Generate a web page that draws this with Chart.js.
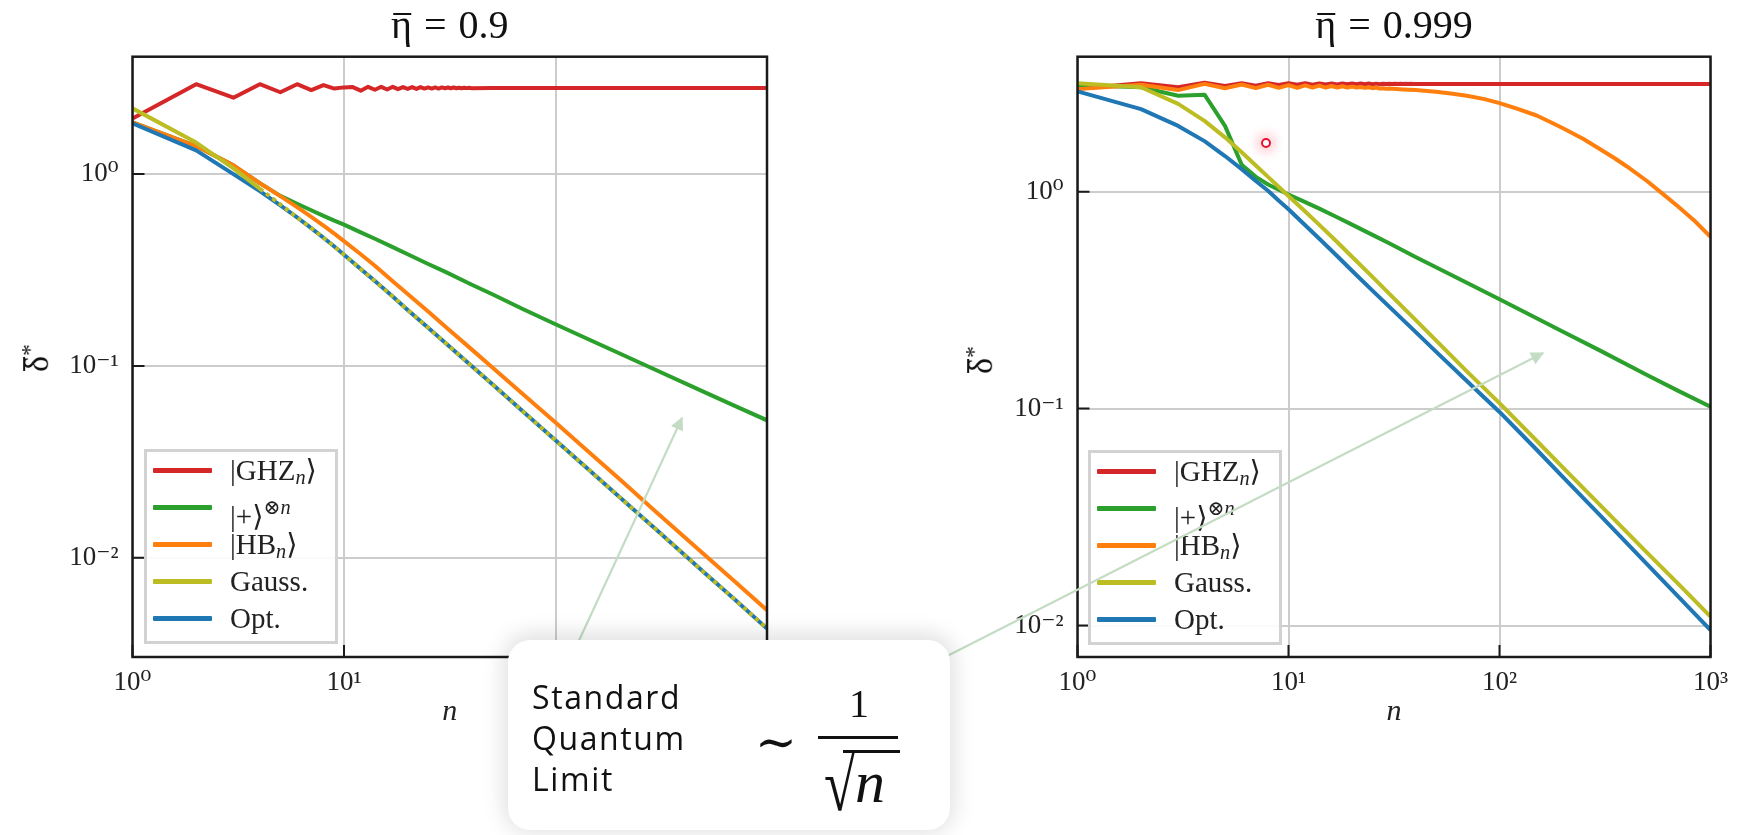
<!DOCTYPE html>
<html>
<head>
<meta charset="utf-8">
<script src="https://cdn.jsdelivr.net/npm/chart.js@4.4.1/dist/chart.umd.min.js"></script>
<style>
  body { margin: 0; width: 1743px; height: 835px; overflow: hidden; background: #fff; position: relative; }
  canvas { position: absolute; top: 0; }
  #panelA { left: 0; }
  #panelB { left: 940px; }
  .ttl, .ylab { position: absolute; font-family: 'Liberation Serif', 'DejaVu Serif', serif; color: #111; white-space: nowrap; }
  .ttl { top: 3px; font-size: 40px; line-height: 44px; transform: translateX(-50%); }
  .ttl .eq { margin: 0 0.3em; }
  #ttlA { left: 449.75px; }
  #ttlB { left: 1394px; }
  .bar-over { position: relative; display: inline-block; }
  .ttl .bar-over::after { content: ''; position: absolute; left: 2px; right: 1px; top: 10px; border-top: 2px solid #111; }
  .ylab { font-size: 34px; line-height: 40px; transform: translate(-50%, -50%) rotate(-90deg); }
  .ylab .bar-over::after { content: ''; position: absolute; left: 1px; right: 1px; top: 6px; border-top: 2px solid #111; }
  .ylab sup { font-size: 70%; vertical-align: 0.45em; }
  #ylabA { left: 33px; top: 358px; }
  #ylabB { left: 977px; top: 360px; }
  .legend {
    position: absolute; width: 194px; height: 195px; box-sizing: border-box;
    border: 3px solid #d2d2d2; background: rgba(255,255,255,0.9);
    font-family: 'Liberation Serif', 'DejaVu Serif', serif; font-size: 29px; color: #222;
  }
  .legend .row { position: relative; height: 37px; white-space: nowrap; }
  .legend .swatch { position: absolute; left: 6px; top: 16px; width: 59px; height: 5px; border-radius: 1px; }
  .legend .lab { position: absolute; left: 83px; top: 0; line-height: 37px; }
  .legend sub { font-size: 70%; vertical-align: -0.2em; }
  .legend sup { font-size: 70%; vertical-align: 0.6em; }
  #legA { left: 144px; top: 449px; }
  #legB { left: 1088px; top: 450px; }
  #arrows { position: absolute; left: 0; top: 0; }
  #sql {
    position: absolute; left: 508px; top: 640px; width: 442px; height: 190px;
    background: #fff; border-radius: 22px; box-shadow: 0 -2px 22px 4px rgba(0,0,0,0.13);
    color: #111;
  }
  #sql .words { position: absolute; left: 24px; top: 36px; font-family: 'Open Sans', sans-serif;
    font-size: 32px; line-height: 41px; letter-spacing: 1.6px; }
  #sql .m { position: absolute; font-family: 'Liberation Serif', 'DejaVu Serif', serif; line-height: 1; }
  #sql .sim { left: 247px; top: 77px; font-size: 50px; }
  #sql .num { left: 341px; top: 44px; font-size: 40px; }
  #sql .bar { position: absolute; left: 310px; top: 96px; width: 80px; height: 2.5px; background: #111; }
  #sql .rad { left: 316px; top: 106px; font-size: 76px; transform: scale(0.75, 1); transform-origin: 0 0; }
  #sql .vinc { position: absolute; left: 335px; top: 110px; width: 57px; height: 2.5px; background: #111; }
  #sql .den { left: 347px; top: 112px; font-size: 60px; font-style: italic; }
  #cursor { position: absolute; left: 1261px; top: 138px; width: 6px; height: 6px; border: 2px solid #e8102c;
    border-radius: 50%; box-shadow: 0 0 9px 6px rgba(255,90,110,0.22); }
</style>
</head>
<body>
<canvas id="panelA" width="800" height="760"></canvas>
<canvas id="panelB" width="803" height="760"></canvas>
<div class="ttl" id="ttlA"><span class="bar-over">η</span><span class="eq">=</span>0.9</div>
<div class="ttl" id="ttlB"><span class="bar-over">η</span><span class="eq">=</span>0.999</div>
<div class="ylab" id="ylabA"><span class="bar-over">δ</span><sup>*</sup></div>
<div class="ylab" id="ylabB"><span class="bar-over">δ</span><sup>*</sup></div>
<div class="legend" id="legA"></div>
<div class="legend" id="legB"></div>
<svg id="arrows" width="1743" height="835">
  <defs>
    <marker id="head" viewBox="0 0 10 10" refX="9" refY="5" markerWidth="6" markerHeight="6" orient="auto">
      <path d="M0,0 L10,5 L0,10 z" fill="#c3dcc3"/>
    </marker>
  </defs>
  <line x1="570" y1="660" x2="682" y2="418" stroke="#c3dcc3" stroke-width="2.2" marker-end="url(#head)"/>
  <line x1="900" y1="680" x2="1543" y2="353" stroke="#c3dcc3" stroke-width="2.2" marker-end="url(#head)"/>
</svg>
<div id="cursor"></div>
<div id="sql">
  <div class="words">Standard<br>Quantum<br>Limit</div>
  <span class="m sim">∼</span>
  <span class="m num">1</span>
  <div class="bar"></div>
  <span class="m rad">√</span>
  <div class="vinc"></div>
  <span class="m den">n</span>
</div>
<script>
// axis ticks and limits
const xTicks = [1, 10, 100, 1000];
const yTicks = [0.01, 0.1, 1];
const yRangeA = [0.003043, 4.09];
const yRangeB = [0.00716, 4.19];

const seriesNames = ['|GHZ<sub><i>n</i></sub>⟩', '|+⟩<sup>⊗<i>n</i></sup>', '|HB<sub><i>n</i></sub>⟩', 'Gauss.', 'Opt.'];
const seriesColors = ['#d62728', '#2ca02c', '#ff7f0e', '#bcbd22', '#1f77b4'];

// common n grid for the smooth curves
const nGrid = [1, 2, 3, 4, 5, 6, 7, 8, 9, 10, 12, 14, 17, 20, 25, 30, 40, 50, 70, 100, 150, 200, 300, 500, 700, 1000];

// ---- left panel, eta = 0.9 ----
const nGhzA = [1, 2, 3, 4, 5, 6, 7, 8, 9, 10, 11, 12, 13, 14, 15, 16, 17, 18, 19, 20,
  21, 22, 23, 24, 25, 26, 27, 28, 29, 30, 31, 32, 33, 34, 35, 36, 37, 38, 39, 40, 50, 1000];
const ghzA = [1.95, 2.94, 2.50, 2.94, 2.67, 2.94, 2.74, 2.91, 2.79, 2.83, 2.84, 2.72, 2.85, 2.75, 2.85, 2.76, 2.85, 2.77, 2.84, 2.78,
  2.84, 2.78, 2.84, 2.79, 2.83, 2.79, 2.83, 2.79, 2.83, 2.80, 2.825, 2.80, 2.825, 2.80, 2.82, 2.80, 2.82, 2.805, 2.815, 2.805, 2.81, 2.81];
const plusA = [1.86, 1.40, 1.11, 0.897, 0.77, 0.70, 0.648, 0.606, 0.572, 0.545, 0.497, 0.46, 0.416, 0.382, 0.34, 0.31,
  0.266, 0.237, 0.198, 0.165, 0.1345, 0.1165, 0.095, 0.0735, 0.0621, 0.0521];
const hbA = [1.86, 1.40, 1.11, 0.897, 0.768, 0.673, 0.599, 0.539, 0.489, 0.447, 0.382, 0.333, 0.276, 0.237, 0.192, 0.1612,
  0.1224, 0.0988, 0.0715, 0.0507, 0.0342, 0.0258, 0.0173, 0.0105, 0.00758, 0.00534];
const gaussA = [2.2, 1.46, 1.07, 0.84, 0.695, 0.594, 0.523, 0.466, 0.419, 0.38, 0.32, 0.277, 0.23, 0.196, 0.158, 0.1325,
  0.1003, 0.0807, 0.0581, 0.041, 0.0276, 0.0208, 0.014, 0.00847, 0.0061, 0.00428];
const optA = [1.84, 1.33, 1.0, 0.815, 0.687, 0.594, 0.523, 0.466, 0.419, 0.38, 0.32, 0.277, 0.23, 0.196, 0.158, 0.1325,
  0.1003, 0.0807, 0.0581, 0.041, 0.0276, 0.0208, 0.014, 0.00847, 0.0061, 0.00428];

// ---- right panel, eta = 0.999 ----
const nGhzB = [1, 2, 3, 4, 5, 6, 7, 8, 9, 10, 11, 12, 13, 14, 15, 16, 17, 18, 19, 20,
  21, 22, 23, 24, 25, 26, 27, 28, 29, 30, 31, 32, 33, 34, 35, 36, 37, 38, 39, 40, 1000];
const ghzB = [2.98, 3.16, 3.03, 3.18, 3.07, 3.16, 3.08, 3.16, 3.10, 3.16, 3.11, 3.16, 3.115, 3.155, 3.12, 3.155, 3.12, 3.15, 3.125, 3.15,
  3.125, 3.15, 3.13, 3.15, 3.13, 3.148, 3.132, 3.147, 3.133, 3.146, 3.134, 3.145, 3.135, 3.144, 3.136, 3.143, 3.137, 3.142, 3.138, 3.14, 3.14];
const nHbB = [1, 2, 3, 4, 5, 6, 7, 8, 9, 10, 11, 12, 13, 14, 15, 16, 17, 18, 19, 20,
  21, 22, 23, 24, 25, 26, 27, 28, 29, 30, 35, 40, 50, 60, 70, 85, 100, 120, 150, 175,
  200, 250, 300, 350, 400, 500, 600, 700, 850, 1000];
const hbB = [2.97, 3.11, 2.94, 3.14, 3.00, 3.12, 3.00, 3.11, 3.01, 3.10, 3.01, 3.09, 3.02, 3.08, 3.02, 3.07, 3.02, 3.06, 3.02, 3.05,
  3.02, 3.04, 3.01, 3.03, 3.00, 3.02, 2.99, 3.00, 2.98, 2.99, 2.96, 2.94, 2.89, 2.83, 2.77, 2.67, 2.56, 2.42, 2.245, 2.09,
  1.96, 1.75, 1.57, 1.43, 1.31, 1.12, 0.969, 0.857, 0.726, 0.62];
const plusB = [3.10, 3.03, 2.77, 2.80, 2.01, 1.33, 1.17, 1.08, 1.02, 0.97, 0.895, 0.835, 0.762, 0.705, 0.632, 0.578,
  0.50, 0.448, 0.38, 0.319, 0.261, 0.226, 0.185, 0.143, 0.121, 0.102];
const gaussB = [3.16, 3.03, 2.54, 2.12, 1.78, 1.52, 1.32, 1.17, 1.05, 0.955, 0.811, 0.703, 0.586, 0.501, 0.405, 0.339,
  0.2565, 0.2063, 0.1484, 0.106, 0.0711, 0.0534, 0.0359, 0.0217, 0.01563, 0.011];
const optB = [2.90, 2.40, 2.01, 1.71, 1.46, 1.27, 1.12, 1.01, 0.908, 0.83, 0.70, 0.607, 0.505, 0.432, 0.35, 0.295,
  0.2257, 0.183, 0.134, 0.0965, 0.0646, 0.0483, 0.0322, 0.0192, 0.01367, 0.00953];

const SERIF = "'Liberation Serif', 'DejaVu Serif', serif";
Chart.defaults.color = '#222';

function pts(ns, vals) {
  return ns.map((n, i) => ({ x: n, y: vals[i] }));
}

function powLabel(v) {
  const sup = { '-': '⁻', '0': '⁰', '1': '¹', '2': '²', '3': '³' };
  const e = String(Math.round(Math.log10(v)));
  return '10' + e.split('').map(c => sup[c]).join('');
}

// frame round the plot and the inward major ticks
const frameTicks = {
  id: 'frameTicks',
  afterDatasetsDraw(chart) {
    const { ctx, chartArea: a, scales: { x, y } } = chart;
    ctx.save();
    ctx.strokeStyle = '#1a1a1a';
    ctx.lineWidth = 2;
    ctx.beginPath();
    y.ticks.forEach(t => {
      const p = y.getPixelForValue(t.value);
      ctx.moveTo(a.left, p); ctx.lineTo(a.left + 12, p);
    });
    x.ticks.forEach(t => {
      const p = x.getPixelForValue(t.value);
      ctx.moveTo(p, a.bottom); ctx.lineTo(p, a.bottom - 12);
    });
    ctx.stroke();
    ctx.lineWidth = 2.5;
    ctx.strokeRect(a.left, a.top, a.right - a.left, a.bottom - a.top);
    ctx.restore();
  }
};

function makeDatasets(ghz, plus, hb, gauss, opt, dashedGauss) {
  const list = [
    { data: ghz, order: 5 },
    { data: plus, order: 4 },
    { data: hb, order: 3 },
    { data: gauss, order: 1 },
    { data: opt, order: 2 }
  ];
  return list.map((d, i) => {
    const ds = {
      label: seriesNames[i].replace(/<[^>]+>/g, ''),
      data: d.data,
      order: d.order,
      borderColor: seriesColors[i],
      backgroundColor: seriesColors[i],
      borderWidth: 4,
      pointRadius: 0,
      tension: 0,
      fill: false,
      borderJoinStyle: 'round'
    };
    if (i === 3 && dashedGauss) {
      ds.segment = { borderDash: c => (c.p0DataIndex >= 3 ? [4, 4] : undefined) };
    }
    return ds;
  });
}

function makeChart(id, datasets, yRange, yWidth, padRight) {
  const ctx = document.getElementById(id).getContext('2d');
  return new Chart(ctx, {
    type: 'line',
    data: { datasets },
    options: {
      responsive: false,
      animation: false,
      events: [],
      devicePixelRatio: 1,
      layout: { padding: { left: 0, right: padRight, top: 56.7, bottom: 0 } },
      plugins: {
        legend: { display: false },
        tooltip: { enabled: false }
      },
      scales: {
        x: {
          type: 'logarithmic', min: 1, max: 1000,
          afterBuildTicks: s => { s.ticks = xTicks.map(v => ({ value: v })); },
          afterFit: s => { s.height = 103; },
          grid: { color: '#cccccc', lineWidth: 2, drawTicks: false },
          border: { display: false },
          ticks: { padding: 10, autoSkip: false, maxRotation: 0, color: '#222',
            font: { family: SERIF, size: 27 }, callback: v => powLabel(v) },
          title: { display: true, text: 'n', color: '#222',
            font: { family: SERIF, size: 30, style: 'italic' }, padding: { top: 0, bottom: 30 } }
        },
        y: {
          type: 'logarithmic', min: yRange[0], max: yRange[1],
          afterBuildTicks: s => { s.ticks = yTicks.map(v => ({ value: v })); },
          afterFit: s => { s.width = yWidth; },
          grid: { color: '#cccccc', lineWidth: 2, drawTicks: false },
          border: { display: false },
          ticks: { padding: 14, autoSkip: false, color: '#222',
            font: { family: SERIF, size: 27 }, callback: v => powLabel(v) }
        }
      }
    },
    plugins: [frameTicks]
  });
}

function htmlLegend(chart, boxId) {
  const box = document.getElementById(boxId);
  chart.data.datasets.forEach((ds, i) => {
    const row = document.createElement('div');
    row.className = 'row';
    row.innerHTML = '<span class="swatch" style="background:' + ds.borderColor + '"></span>' +
      '<span class="lab">' + seriesNames[i] + '</span>';
    box.appendChild(row);
  });
}

const chartA = makeChart('panelA',
  makeDatasets(pts(nGhzA, ghzA), pts(nGrid, plusA), pts(nGrid, hbA), pts(nGrid, gaussA), pts(nGrid, optA), true),
  yRangeA, 132.5, 33);
const chartB = makeChart('panelB',
  makeDatasets(pts(nGhzB, ghzB), pts(nGrid, plusB), pts(nHbB, hbB), pts(nGrid, gaussB), pts(nGrid, optB), false),
  yRangeB, 137.5, 32.5);

htmlLegend(chartA, 'legA');
htmlLegend(chartB, 'legB');
</script>
</body>
</html>
